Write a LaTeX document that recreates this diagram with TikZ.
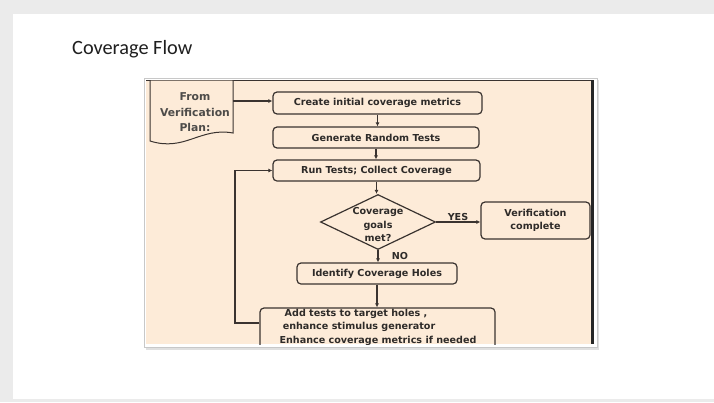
\documentclass[tikz,border=0pt]{standalone}
\usepackage{fontspec}
\setmainfont{Carlito}
\newfontfamily\flowfont{DejaVu Sans}
\usetikzlibrary{arrows.meta,shapes.geometric}
\definecolor{pagegray}{HTML}{EBEBEB}
\definecolor{peach}{HTML}{FDEBD8}
\definecolor{ink}{HTML}{3A3330}
\definecolor{textink}{HTML}{2E2B29}
\definecolor{framegray}{HTML}{C8C8C8}
\begin{document}
\begin{tikzpicture}[x=1pt,y=-1pt,
  box/.style={draw=ink, line width=1.2pt, rounded corners=4pt, inner sep=0pt},
  flowtext/.style={font=\flowfont\bfseries\fontsize{9.6}{13}\selectfont, text=textink, inner sep=0pt, align=center},
  flow/.style={draw=ink, line width=1.2pt, -{Latex[length=4pt,width=4pt]}}]

% slide page
\fill[pagegray] (0,0) rectangle (714,402);
\fill[white] (13,14) rectangle (714,399);
\node[anchor=west, font=\fontsize{20.3}{24}\selectfont, inner sep=0pt, text=black!88] (title) at (72,49) {Coverage Flow};

% framed picture
\fill[black!12] (146,80) rectangle (599,350);
\filldraw[fill=white, draw=framegray, line width=0.8pt] (144,78) rectangle (597,347);
\fill[peach] (146,80) rectangle (593,344);
\draw[ink, line width=0.8pt] (146,80) -- (593,80);
\draw[black!85, line width=3pt] (592,80) -- (592,344);

\begin{scope}
\clip (146,80) rectangle (593,344);

% document shape
\draw[ink, line width=1pt, fill=peach] (150,80) -- (233,80) -- (233,133)
  .. controls (200,127) and (185,152) .. (150,141) -- cycle;
\node[inner sep=0pt, minimum width=83pt, minimum height=53pt] (plan) at (191.5,106.5) {};
\node[flowtext, font=\flowfont\bfseries\fontsize{10.8}{15.5}\selectfont, text=textink!85] (plantext) at (195,112.5) {From\\Verification\\Plan:};

% process boxes
\node[box, minimum width=209pt, minimum height=22pt] (create) at (377.5,103) {};
\node[flowtext] (createtext) at (create) {Create initial coverage metrics};
\node[box, minimum width=206pt, minimum height=21pt] (gen) at (376,137.5) {};
\node[flowtext] (gentext) at (gen) {Generate Random Tests};
\node[box, minimum width=207pt, minimum height=21pt] (run) at (376.5,170.5) {};
\node[flowtext] (runtext) at (run) {Run Tests; Collect Coverage};
\node[diamond, draw=ink, line width=1.2pt, minimum width=115pt, minimum height=55pt, inner sep=0pt] (dec) at (378,222) {};
\node[flowtext] (dectext) at (378,224.5) {Coverage\\goals\\met?};
\node[box, minimum width=109pt, minimum height=37pt] (ver) at (535.5,220.5) {};
\node[flowtext] (vertext) at (ver) {Verification\\complete};
\node[box, minimum width=160pt, minimum height=21pt] (holes) at (377,273.5) {};
\node[flowtext] (holestext) at (holes) {Identify Coverage Holes};
\node[box, minimum width=235pt, minimum height=56pt] (add) at (377.5,336) {};
\node[flowtext] (addA) at (356,314) {Add tests to target holes ,};
\node[flowtext] (addB) at (359,326.5) {enhance stimulus generator};
\node[flowtext] (addC) at (378,341) {Enhance coverage metrics if needed};

% connectors
\draw[flow] ([yshift=5.5pt]plan.east) -- ([yshift=5.5pt]plan.east -| create.west);
\draw[flow] (create.south) -- (create.south |- gen.north);
\draw[flow] (gen.south) -- (gen.south |- run.north);
\draw[flow] (run.south) -- (run.south |- dec.north);
\draw[flow] (dec.east) -- (dec.east -| ver.west);
\node[flowtext, anchor=base] (yes) at (458,220.5) {YES};
\draw[flow] (dec.south) -- (dec.south |- holes.north);
\node[flowtext] (no) at (400,256) {NO};
\draw[flow] (holes.south) -- (holes.south |- add.north);
\coordinate (loopcorner) at (235,323);
\draw[flow] ([yshift=13pt]add.west) -- (loopcorner) |- (run.west);
\end{scope}
\end{tikzpicture}
\end{document}
